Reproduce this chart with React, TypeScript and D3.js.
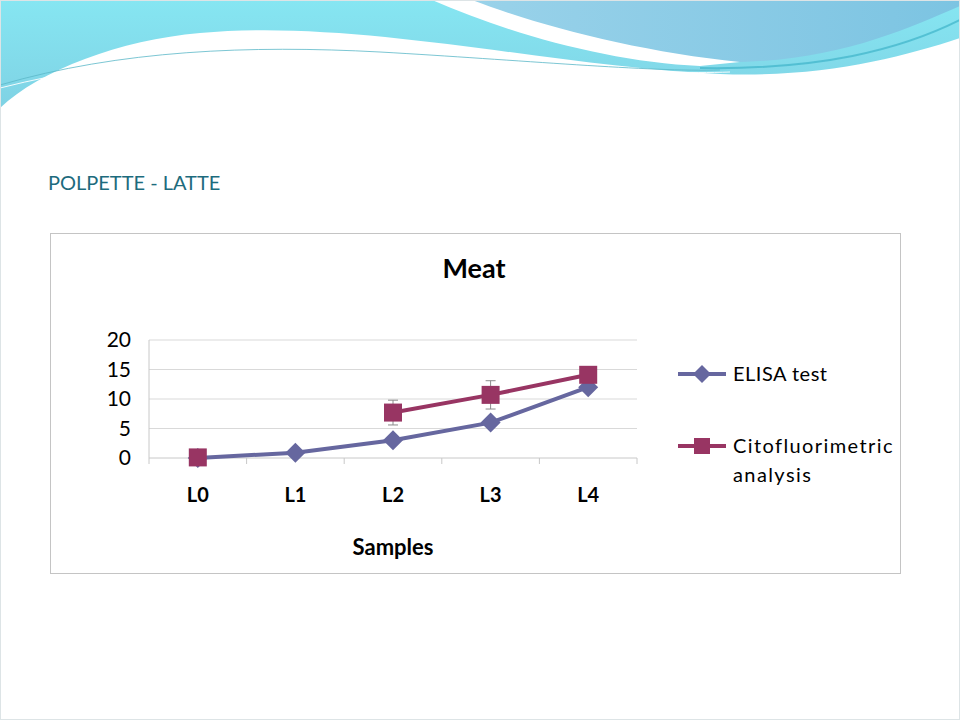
import * as d3 from 'd3';

const categories = ['L0', 'L1', 'L2', 'L3', 'L4'];
const elisaValues = [0, 0.9, 3.0, 6.0, 12.0];
const citoValues: (number | null)[] = [0.1, null, 7.7, 10.7, 14.1];
const citoErrors: (number | null)[] = [0.6, null, 2.1, 2.4, 0.4];
const yTicks = [0, 5, 10, 15, 20];

const FONT = 'Lato, "Open Sans", sans-serif';
const ELISA_COLOR = '#66679f';
const CITO_COLOR = '#983563';

export default function App() {
  const x = d3.scaleBand<string>().domain(categories).range([149, 637]);
  const y = d3.scaleLinear().domain([0, 20]).range([458, 340]);
  const cx = (c: string) => (x(c) || 0) + x.bandwidth() / 2;

  const elisaLine = d3.line<number>()
    .x((_d, i) => cx(categories[i]))
    .y(d => y(d))(elisaValues) || '';

  const citoPts = citoValues
    .map((v, i) => ({ c: categories[i], v, e: citoErrors[i] }))
    .filter(d => d.v !== null) as { c: string; v: number; e: number | null }[];
  // line only across consecutive points (gap at L1)
  const citoLine = d3.line<number | null>()
    .defined(d => d !== null)
    .x((_d, i) => cx(categories[i]))
    .y(d => y(d as number))(citoValues) || '';

  const boundaries = [...categories.map(c => x(c) || 0), x.range()[1]];

  const diamond = (px: number, py: number, r: number) =>
    `M${px},${py - r}L${px + r},${py}L${px},${py + r}L${px - r},${py}Z`;

  return (
    <svg width={960} height={720} style={{ position: 'absolute', left: 0, top: 0, background: '#fff' }}>
      <defs>
        <linearGradient id="cyan" x1="0" y1="0" x2="0" y2="1">
          <stop offset="0" stopColor="#86e6f2" />
          <stop offset="1" stopColor="#7fd2e4" />
        </linearGradient>
        <linearGradient id="blue" x1="0" y1="0" x2="1" y2="0">
          <stop offset="0" stopColor="#9bd3ea" />
          <stop offset="1" stopColor="#7cc4e2" />
        </linearGradient>
      </defs>
      {/* decorative header waves */}
      <path d="M0,0H960V38C900,58 820,78 720,74C560,68 360,18 200,33C120,40 40,70 0,108Z" fill="url(#cyan)" />
      <path d="M440,0C520,30 620,58 720,62C830,64 905,30 960,6V0Z" fill="url(#blue)" />
      <path d="M432,0C510,34 610,62 700,66L740,62C640,52 540,26 472,0Z" fill="#ffffff" />
      <path d="M960,20C900,50 820,70 700,68" fill="none" stroke="#3fb3c9" strokeWidth={2} opacity={0.7} />
      <path d="M0,85C120,50 250,45 380,52C520,60 650,72 720,70" fill="none" stroke="#5bb8c8" strokeWidth={1} opacity={0.8} />
      <path d="M0,88C130,55 260,50 390,57C530,64 650,75 730,72" fill="none" stroke="#ffffff" strokeWidth={1} opacity={0.9} />
      <rect x={0.5} y={0.5} width={959} height={719} fill="none" stroke="#dde4e6" />

      <text x={48} y={190} fontFamily={FONT} fontSize={20} fill="#1d6b7d">POLPETTE - LATTE</text>

      {/* chart frame */}
      <rect x={50.5} y={233.5} width={850} height={340} fill="#fff" stroke="#c4c4c4" />
      <text x={474} y={278} textAnchor="middle" fontFamily={FONT} fontSize={27} fontWeight="bold" fill="#000">Meat</text>

      {/* gridlines */}
      {yTicks.filter(t => t > 0).map(t => (
        <line key={t} x1={x.range()[0]} x2={x.range()[1]} y1={y(t)} y2={y(t)} stroke="#d9d9d9" />
      ))}
      <line x1={x.range()[0]} x2={x.range()[0]} y1={y(20)} y2={y(0)} stroke="#c8c8c8" />
      <line x1={x.range()[0]} x2={x.range()[1]} y1={y(0)} y2={y(0)} stroke="#c8c8c8" />
      {boundaries.map((b, i) => (
        <line key={i} x1={b} x2={b} y1={y(0)} y2={y(0) + 6} stroke="#c8c8c8" />
      ))}
      {yTicks.map(t => (
        <text key={t} x={131} y={y(t) + 7} textAnchor="end" fontFamily={FONT} fontSize={21} fill="#000">{t}</text>
      ))}
      {categories.map(c => (
        <text key={c} x={cx(c)} y={502} textAnchor="middle" fontFamily={FONT} fontSize={20} fontWeight="bold" fill="#000">{c}</text>
      ))}
      <text x={393} y={555} textAnchor="middle" fontFamily={FONT} fontSize={22} fontWeight="bold" fill="#000">Samples</text>

      {/* error bars */}
      {citoPts.filter(d => d.e !== null).map(d => (
        <g key={d.c} stroke="#8c8c8c" strokeWidth={1}>
          <line x1={cx(d.c)} x2={cx(d.c)} y1={y(d.v + (d.e as number))} y2={y(d.v - (d.e as number))} />
          <line x1={cx(d.c) - 5} x2={cx(d.c) + 5} y1={y(d.v + (d.e as number))} y2={y(d.v + (d.e as number))} />
          <line x1={cx(d.c) - 5} x2={cx(d.c) + 5} y1={y(d.v - (d.e as number))} y2={y(d.v - (d.e as number))} />
        </g>
      ))}

      {/* ELISA series */}
      <path d={elisaLine} fill="none" stroke={ELISA_COLOR} strokeWidth={4} />
      {elisaValues.map((v, i) => (
        <path key={i} d={diamond(cx(categories[i]), y(v), 10)} fill={ELISA_COLOR} />
      ))}

      {/* Citofluorimetric series */}
      <path d={citoLine} fill="none" stroke={CITO_COLOR} strokeWidth={4} />
      {citoPts.map(d => (
        <rect key={d.c} x={cx(d.c) - 9} y={y(d.v) - 9} width={18} height={18} fill={CITO_COLOR} />
      ))}

      {/* legend */}
      <line x1={678} x2={726} y1={374} y2={374} stroke={ELISA_COLOR} strokeWidth={4} />
      <path d={diamond(702, 374, 9)} fill={ELISA_COLOR} />
      <text x={733} y={381} fontFamily={FONT} fontSize={20} letterSpacing={0.5} fill="#000">ELISA test</text>
      <line x1={678} x2={726} y1={446} y2={446} stroke={CITO_COLOR} strokeWidth={4} />
      <rect x={694} y={438} width={16} height={16} fill={CITO_COLOR} />
      <text x={733} y={453} fontFamily={FONT} fontSize={20} letterSpacing={1.4} fill="#000">Citofluorimetric</text>
      <text x={733} y={482} fontFamily={FONT} fontSize={20} letterSpacing={1.4} fill="#000">analysis</text>
    </svg>
  );
}
